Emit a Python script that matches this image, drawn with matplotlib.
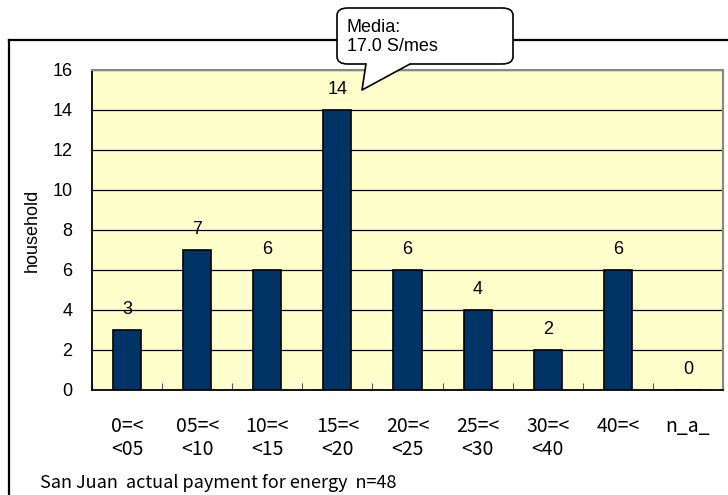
import numpy as np
import matplotlib
matplotlib.use('Agg')
import matplotlib.pyplot as plt
from matplotlib.patches import FancyBboxPatch, Polygon
from matplotlib.lines import Line2D

# Households by monthly energy payment bracket (S/)
categories = ['0=<\n<05', '05=<\n<10', '10=<\n<15', '15=<\n<20', '20=<\n<25',
              '25=<\n<30', '30=<\n<40', '40=<\n', 'n_a_\n']
households = [3, 7, 6, 14, 6, 4, 2, 6, 0]
y_ticks = [0, 2, 4, 6, 8, 10, 12, 14, 16]
median_text = 'Media:\n17.0 S/mes'
footer = 'San Juan  actual payment for energy  n=48'

W, H = 728, 495
bar_color = '#003366'
plot_bg = '#FFFFCC'
fontsize = 13
plt.rcParams['font.family'] = ['Liberation Sans', 'DejaVu Sans']
jp_font = ['Noto Sans CJK JP', 'DejaVu Sans']

def fx(px):
    return px / W

def fy(py):
    return 1 - py / H

fig = plt.figure(figsize=(W / 100, H / 100), dpi=100)
fig.patch.set_facecolor('white')

# outer chart frame (runs off the right and bottom edge)
fig.add_artist(Line2D([fx(9), fx(9)], [fy(40), fy(H + 5)], color='black', lw=1.6))
fig.add_artist(Line2D([fx(9), fx(W + 5)], [fy(40), fy(40)], color='black', lw=1.6))

ax = fig.add_axes([fx(92), fy(390), fx(723) - fx(92), fy(70) - fy(390)])
ax.set_facecolor(plot_bg)

x = np.arange(len(categories))
ax.bar(x, households, width=0.4, color=bar_color, edgecolor='black', lw=1.2, zorder=3)
for xi, v in zip(x, households):
    ax.annotate(str(v), (xi, v), xytext=(0, 15), textcoords='offset points',
                ha='center', va='center', fontsize=fontsize)

ax.set_xlim(-0.5, len(categories) - 0.5)
ax.set_ylim(0, 16)
ax.set_yticks(y_ticks)
ax.yaxis.grid(True, color='black', lw=0.9, zorder=1)
ax.set_axisbelow(True)
ax.tick_params(axis='y', length=0, pad=14, labelsize=fontsize)

# category boundary ticks pointing into the plot
ax.set_xticks(np.arange(len(categories) + 1) - 0.5)
ax.set_xticklabels([])
ax.tick_params(axis='x', which='major', direction='in', length=5, color='#555555')
ax.set_xticks(x, minor=True)
ax.set_xticklabels(categories, minor=True, fontsize=14, family=jp_font,
                   linespacing=1.1)
ax.tick_params(axis='x', which='minor', length=0, pad=19)

for side in ['top', 'right']:
    ax.spines[side].set_color('#888888')
    ax.spines[side].set_linewidth(1.5)
for side in ['left', 'bottom']:
    ax.spines[side].set_color('black')
    ax.spines[side].set_linewidth(1.3)

ax.set_ylabel('household', fontsize=fontsize)
ax.yaxis.set_label_coords(-0.082, 0.5)

fig.text(fx(40), fy(483), footer, fontsize=fontsize, family=jp_font, va='center', ha='left')

# speech bubble with the median payment
box = FancyBboxPatch((fx(337), fy(64)), fx(513) - fx(337), fy(8) - fy(64),
                     boxstyle='round,pad=0,rounding_size=0.015', transform=fig.transFigure,
                     facecolor='white', edgecolor='black', lw=1.2, zorder=10)
fig.add_artist(box)
tip = (fx(362), fy(90))
left_base = (fx(366), fy(64))
right_base = (fx(410), fy(64))
fig.add_artist(Polygon([left_base, tip, right_base, (fx(410), fy(62)), (fx(366), fy(62))],
                       closed=True, transform=fig.transFigure, facecolor='white',
                       edgecolor='none', zorder=11))
fig.add_artist(Line2D([left_base[0], tip[0], right_base[0]], [left_base[1], tip[1], right_base[1]],
                      color='black', lw=1.2, zorder=12))
fig.text(fx(347), fy(37), median_text, fontsize=fontsize, va='center', ha='left',
         linespacing=1.2, zorder=13)

plt.savefig('out.png', dpi=100)
